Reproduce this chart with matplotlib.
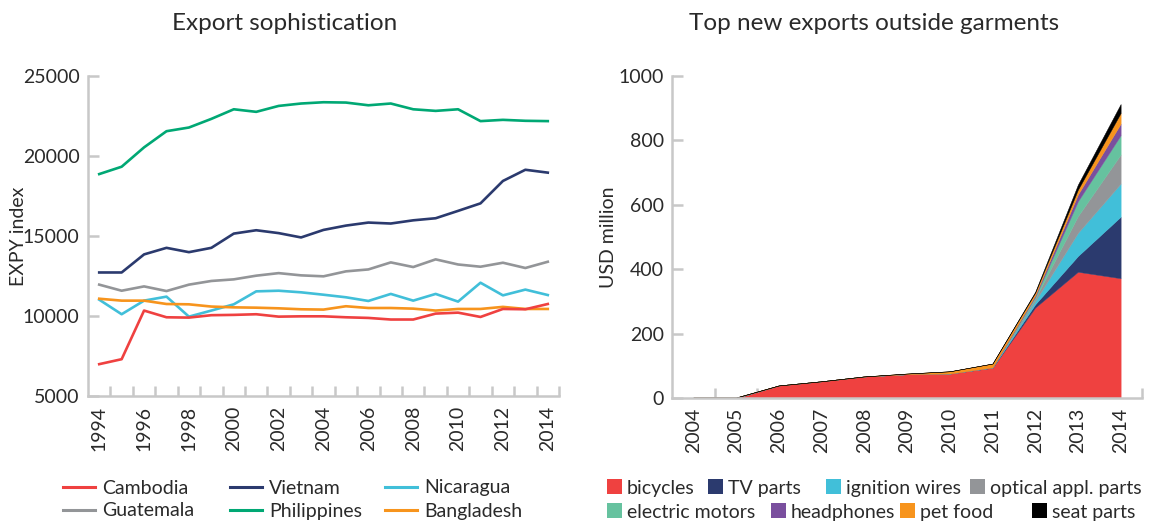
import numpy as np
import matplotlib
matplotlib.use("Agg")
import matplotlib.pyplot as plt
from matplotlib.lines import Line2D
from matplotlib.patches import Patch

plt.rcParams['font.family'] = ['Lato', 'DejaVu Sans']
plt.rcParams['font.weight'] = 'normal'

# ---------------- Data: Export sophistication (EXPY index) ----------------
years_left = list(range(1994, 2015))
cambodia = [6990, 7300, 10340, 9920, 9900, 10050, 10070, 10110, 9960, 9980, 9980,
            9920, 9880, 9780, 9780, 10150, 10210, 9940, 10440, 10420, 10750]
vietnam = [12720, 12720, 13850, 14260, 13990, 14260, 15150, 15360, 15180, 14910, 15380,
           15650, 15840, 15780, 15980, 16110, 16570, 17040, 18440, 19140, 18960]
nicaragua = [11020, 10110, 10960, 11210, 9960, 10340, 10730, 11540, 11580, 11480, 11330,
             11170, 10940, 11380, 10960, 11380, 10900, 12080, 11290, 11650, 11310]
guatemala = [11960, 11580, 11850, 11560, 11960, 12190, 12290, 12520, 12680, 12540, 12480,
             12790, 12910, 13350, 13060, 13540, 13220, 13080, 13330, 13000, 13390]
philippines = [18870, 19330, 20540, 21550, 21780, 22320, 22920, 22760, 23130, 23280, 23360,
               23340, 23170, 23280, 22920, 22820, 22920, 22180, 22260, 22200, 22180]
bangladesh = [11080, 10960, 10960, 10750, 10730, 10590, 10540, 10520, 10480, 10420, 10400,
              10610, 10500, 10500, 10460, 10340, 10440, 10440, 10570, 10440, 10440]

# ---------------- Data: Top new exports outside garments (USD million) ----
years_right = list(range(2004, 2015))
bicycles = [0, 0, 39, 52, 67, 74, 76, 94, 281, 392, 372]
tv_parts = [0, 0, 0, 0, 0, 0, 0, 0, 10, 49, 191]
ignition_wires = [0, 0, 0, 0, 0, 0, 0, 1, 10, 72, 103]
optical_parts = [1.5, 1.5, 0, 0, 0, 0, 0, 0, 7, 52, 90]
electric_motors = [0, 0, 0, 0, 0, 0, 0, 0, 6, 46, 60]
headphones = [0, 0, 0, 0, 0, 0, 0, 0, 5, 21, 36]
pet_food = [0, 0, 0, 0, 0, 2, 7, 12, 8, 15, 33]
seat_parts = [0, 0, 0, 0, 0, 0, 0, 0, 3, 16, 28]

RED = '#ef4140'
NAVY = '#2b3a6e'
CYAN = '#41bfd9'
GRAY = '#939598'
GREEN = '#00a874'
ORANGE = '#f7941d'
MINT = '#66c29f'
PURPLE = '#7a4f9e'
BLACK = '#000000'
SPINE = '#c8c8c8'
TXT = '#2a2a2a'

W, H = 1149, 522
fig = plt.figure(figsize=(W / 100, H / 100), dpi=100)

def style_axes(ax):
    for s in ['top', 'right']:
        ax.spines[s].set_visible(False)
    for s in ['left', 'bottom']:
        ax.spines[s].set_color(SPINE)
        ax.spines[s].set_linewidth(1.8)
    ax.tick_params(axis='y', direction='in', length=8, width=1.8, color=SPINE,
                   labelsize=14, labelcolor=TXT, pad=6)
    ax.tick_params(axis='x', which='major', length=0, labelsize=14, labelcolor=TXT,
                   pad=7, labelrotation=90)
    ax.tick_params(axis='x', which='minor', direction='in', length=7, width=1.8, color=SPINE)

# ---------------- Left chart ----------------
axL = fig.add_axes([88 / W, 1 - 396 / H, (559 - 88) / W, (396 - 76) / H])
xl = np.arange(len(years_left))
series_left = [
    ('Cambodia', cambodia, RED),
    ('Vietnam', vietnam, NAVY),
    ('Nicaragua', nicaragua, CYAN),
    ('Guatemala', guatemala, GRAY),
    ('Philippines', philippines, GREEN),
    ('Bangladesh', bangladesh, ORANGE),
]
draw_order = ['Guatemala', 'Nicaragua', 'Bangladesh', 'Cambodia', 'Vietnam', 'Philippines']
lookup = {n: (v, c) for n, v, c in series_left}
for n in draw_order:
    v, c = lookup[n]
    axL.plot(xl, v, color=c, lw=1.9, solid_joinstyle='round')
axL.set_xlim(-0.5, len(years_left) - 0.5)
axL.set_ylim(5000, 25000)
axL.set_yticks([5000, 10000, 15000, 20000, 25000])
axL.set_xticks(xl[::2])
axL.set_xticklabels([str(y) for y in years_left[::2]])
axL.set_xticks(np.arange(0.5, len(years_left) - 0.4, 1.0), minor=True)
style_axes(axL)
axL.set_ylabel('EXPY index', fontsize=14, color=TXT)
axL.yaxis.set_label_coords((27 - 88) / 471, 0.5)

# ---------------- Right chart ----------------
axR = fig.add_axes([672 / W, 1 - 398 / H, (1142 - 672) / W, (398 - 76) / H])
axR.set_axisbelow(True)
xr = np.arange(len(years_right))
stack_names = ['bicycles', 'TV parts', 'ignition wires', 'optical appl. parts',
               'electric motors', 'headphones', 'pet food', 'seat parts']
stack_vals = [bicycles, tv_parts, ignition_wires, optical_parts,
              electric_motors, headphones, pet_food, seat_parts]
stack_cols = [RED, NAVY, CYAN, GRAY, MINT, PURPLE, ORANGE, BLACK]
axR.stackplot(xr, *stack_vals, colors=stack_cols, lw=0.3, edgecolor='face')
axR.set_xlim(-0.5, len(years_right) - 0.5)
axR.set_ylim(0, 1000)
axR.set_yticks([0, 200, 400, 600, 800, 1000])
axR.set_xticks(xr)
axR.set_xticklabels([str(y) for y in years_right])
axR.set_xticks(np.arange(0.5, len(years_right) - 0.4, 1.0), minor=True)
style_axes(axR)
axR.set_ylabel('USD million', fontsize=14, color=TXT)
axR.yaxis.set_label_coords((617 - 672) / 470, 0.5)

# ---------------- Titles ----------------
fig.text(285 / W, 1 - 24 / H, 'Export sophistication', ha='center', va='center',
         fontsize=17.5, color=TXT)
fig.text(874 / W, 1 - 24 / H, 'Top new exports outside garments', ha='center',
         va='center', fontsize=17.5, color=TXT)

# ---------------- Legends ----------------
def legend_item(handle, label, x, y, handlelength, handleheight, textpad):
    fig.legend([handle], [label], loc='center left',
               bbox_to_anchor=(x / W, 1 - y / H), frameon=False, fontsize=14,
               handlelength=handlelength, handleheight=handleheight,
               handletextpad=textpad, borderpad=0.0, borderaxespad=0.0,
               labelcolor=TXT)

left_pos = {
    'Cambodia': (63, 488), 'Vietnam': (230, 488), 'Nicaragua': (385, 488),
    'Guatemala': (63, 511), 'Philippines': (230, 511), 'Bangladesh': (385, 511),
}
for n, (x, y) in left_pos.items():
    legend_item(Line2D([0], [0], color=lookup[n][1], lw=2.2), n, x, y, 1.65, 0.7, 0.35)

right_pos = [(607, 488), (708, 488), (826, 488), (970, 488),
             (607, 512), (771, 512), (900, 512), (1032, 512)]
for i, (x, y) in enumerate(right_pos):
    legend_item(Patch(facecolor=stack_cols[i], edgecolor='none'), stack_names[i],
                x, y, 0.78, 0.78, 0.25)

fig.savefig('out.png', dpi=100)
